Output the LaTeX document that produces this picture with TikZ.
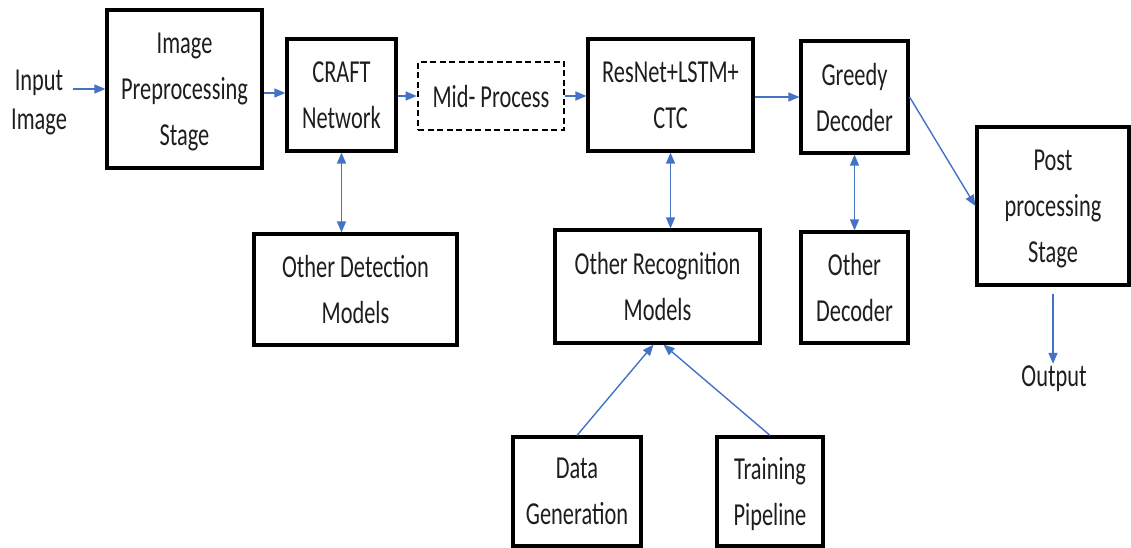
\documentclass[tikz,border=0pt]{standalone}
\usepackage{fontspec}
\setmainfont{Carlito}[FakeStretch=0.7]
\usetikzlibrary{arrows.meta}
\definecolor{arrowblue}{HTML}{4472C4}
\definecolor{txt}{HTML}{1E1E1E}
\tikzset{
  box/.style={draw=black, line width=3.2pt, rectangle, align=center, inner sep=0pt,
    font=\fontsize{32}{46}\selectfont, text=txt, text depth=0pt},
  dbox/.style={box, dashed, dash pattern=on 6pt off 3.5pt, line width=2.6pt},
  plain/.style={align=center, inner sep=2pt, font=\fontsize{32}{39}\selectfont, text=txt},
  arr/.style={draw=arrowblue, line width=1.4pt, -{Triangle[length=11pt,width=9pt]}},
  darr/.style={draw=arrowblue, line width=1.4pt, {Triangle[length=11pt,width=9pt]}-{Triangle[length=11pt,width=9pt]}}
}
\begin{document}
\begin{tikzpicture}[x=1pt,y=-1pt]
\useasboundingbox (0,0) rectangle (1131,548);
\node[plain] (input) at (39,102) {Input\\Image};
\node[box, minimum width=155pt, minimum height=158pt] (pre) at (184.5,89) {Image\\Preprocessing\\Stage};
\node[box, minimum width=109pt, minimum height=112pt] (craft) at (341.5,95) {CRAFT\\Network};
\node[dbox, minimum width=146pt, minimum height=68pt] (mid) at (491,96) {Mid- Process};
\node[box, minimum width=165pt, minimum height=112pt] (resnet) at (670.5,95) {ResNet+LSTM+\\CTC};
\node[box, minimum width=107pt, minimum height=112pt] (greedy) at (854.5,97) {Greedy\\Decoder};
\node[box, minimum width=152pt, minimum height=158pt] (post) at (1053,206) {Post\\processing\\Stage};
\node[box, minimum width=203pt, minimum height=111pt] (detect) at (355.5,289.5) {Other Detection\\Models};
\node[box, minimum width=205pt, minimum height=113pt] (recog) at (657.5,286.5) {Other Recognition\\Models};
\node[box, minimum width=107pt, minimum height=111pt] (odec) at (854.5,287.5) {Other\\Decoder};
\node[box, minimum width=128pt, minimum height=109pt] (data) at (577,491.5) {Data\\Generation};
\node[box, minimum width=106pt, minimum height=109pt] (train) at (770,491.5) {Training\\Pipeline};
\node[plain] (output) at (1054,379) {Output};

\draw[arr, shorten <=4pt] (input.east |- pre.west) -- (pre.west);
\draw[arr] ([yshift=-4pt]pre.east) -- ([yshift=-4pt]pre.east -| craft.west);
\draw[arr] (craft.east |- mid.west) -- (mid.west);
\draw[arr] (mid.east) -- (mid.east -| resnet.west);
\draw[arr] (resnet.east |- greedy.west) -- (greedy.west);
\draw[arr] (greedy.east) -- (post.west);
\draw[arr, shorten <=7pt] (post.south) -- (post.south |- output.north);
\draw[darr] (craft.south) -- (craft.south |- detect.north);
\draw[darr] (resnet.south) -- (resnet.south |- recog.north);
\draw[darr] (greedy.south) -- (greedy.south |- odec.north);
\draw[arr] (data.north) -- ([xshift=-4pt]recog.south);
\draw[arr] (train.north) -- ([xshift=6pt]recog.south);
\end{tikzpicture}
\end{document}
